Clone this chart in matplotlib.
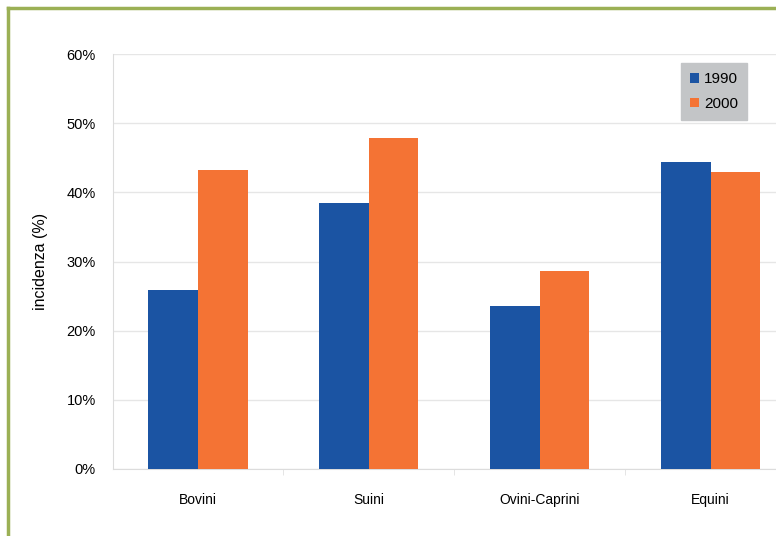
import matplotlib
matplotlib.use('Agg')
import numpy as np
import matplotlib.pyplot as plt
from matplotlib.lines import Line2D
from matplotlib.ticker import FixedLocator, PercentFormatter

OUT_PATH = 'out.png'

categories = ['Bovini', 'Suini', 'Ovini-Caprini', 'Equini']
years = ['1990', '2000']
values_1990 = [25.9, 38.5, 23.6, 44.4]
values_2000 = [43.2, 47.8, 28.6, 42.9]

COLORS = ['#1b54a3', '#f47334']

plt.rcParams['font.family'] = ['Liberation Sans', 'DejaVu Sans']

fig = plt.figure(figsize=(7.76, 5.36), dpi=100)
ax = fig.add_axes([0.145, 0.125, 0.881, 0.774])

x = np.arange(len(categories))
w = 0.29
ax.bar(x - w / 2, values_1990, w, color=COLORS[0], label=years[0], zorder=3)
ax.bar(x + w / 2, values_2000, w, color=COLORS[1], label=years[1], zorder=3)

ax.set_xlim(-0.5, len(categories) - 0.5)
ax.set_ylim(0, 60)
ax.set_yticks(np.arange(0, 61, 10))
ax.yaxis.set_major_formatter(PercentFormatter(decimals=0))
ax.set_xticks(x)
ax.set_xticklabels(categories, fontsize=10)
ax.xaxis.set_minor_locator(FixedLocator(x[:-1] + 0.5))
ax.tick_params(axis='x', which='major', length=0, pad=17)
ax.tick_params(axis='x', which='minor', length=4, color='#e0e0e0')
ax.tick_params(axis='y', length=0, pad=12, labelsize=10.5)
ax.grid(axis='y', color='#e6e6e6', linewidth=1, zorder=0)

for side in ['top', 'right']:
    ax.spines[side].set_visible(False)
for side in ['left', 'bottom']:
    ax.spines[side].set_color('#dcdcdc')

ax.set_ylabel('incidenza (%)', fontsize=11.5)
ax.yaxis.set_label_coords(-0.095, 0.5)

leg = ax.legend(loc='upper left', bbox_to_anchor=(681 / 776, 1 - 63 / 536),
                bbox_transform=fig.transFigure, fontsize=11,
                handlelength=0.6, handleheight=0.6, handletextpad=0.3,
                labelspacing=0.7, borderpad=0.6, fancybox=False,
                framealpha=1, borderaxespad=0)
leg.get_frame().set_facecolor('#c3c5c7')
leg.get_frame().set_edgecolor('#c3c5c7')

#green frame, only top and left edges visible
border = '#9bb055'
fig.add_artist(Line2D([8 / 776, 8 / 776], [0, 1 - 8 / 536], color=border,
                      linewidth=2.5, transform=fig.transFigure))
fig.add_artist(Line2D([8 / 776, 1], [1 - 8 / 536, 1 - 8 / 536], color=border,
                      linewidth=2.5, transform=fig.transFigure))

fig.savefig(OUT_PATH, dpi=100)
